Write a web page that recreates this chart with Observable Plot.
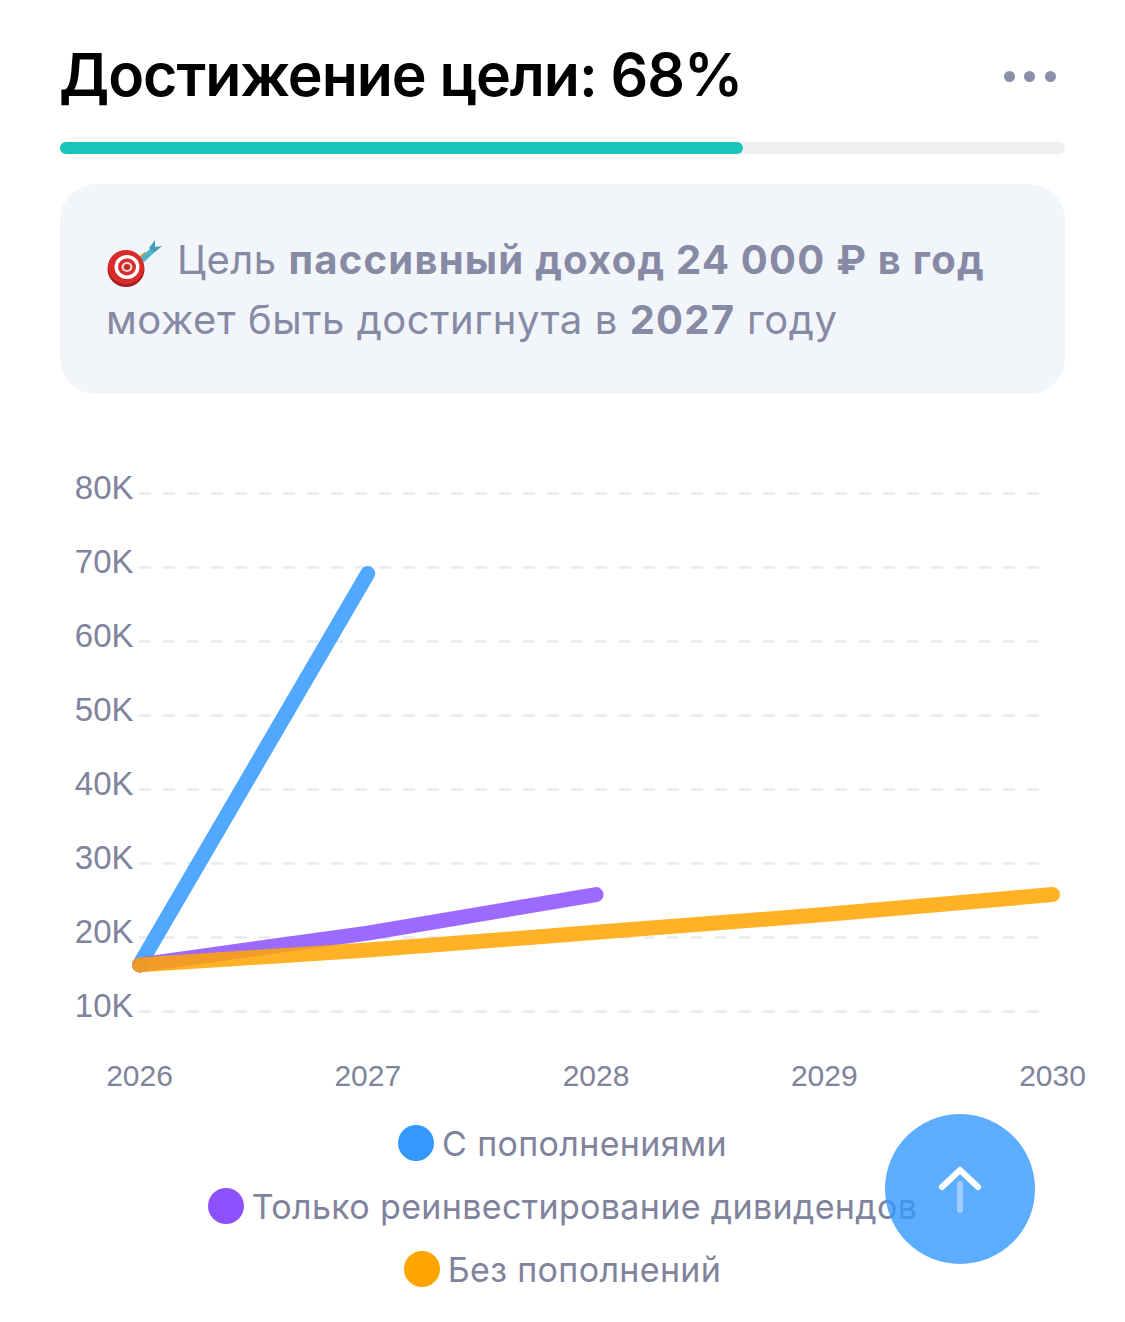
<!DOCTYPE html>
<html lang="ru"><head><meta charset="utf-8">
<script src="https://cdn.jsdelivr.net/npm/d3@7"></script>
<script src="https://cdn.jsdelivr.net/npm/@observablehq/plot@0.6"></script>
<style>
html,body{margin:0;padding:0;background:#fff}
body{width:1125px;height:1322px;position:relative;overflow:hidden;font-family:Inter,"Noto Sans",sans-serif}
.a{position:absolute}
#title{left:59px;top:36px;font-size:59px;line-height:78px;font-weight:600;color:#000;white-space:nowrap;letter-spacing:-1.05px}
.dot3{width:11px;height:11px;border-radius:50%;background:#8c8fa8;top:71px}
#track{left:60px;top:142px;width:1005px;height:12px;border-radius:6px;background:#eff0f2}
#fill{left:60px;top:142px;width:683px;height:12px;border-radius:6px;background:#19c4ba}
#panel{left:60px;top:184px;width:1005px;height:210px;border-radius:36px;background:#f2f6fa}
.msg{font-size:40px;line-height:60px;color:#878aa5;white-space:nowrap;left:106px;letter-spacing:.55px}
.msg b{font-weight:700;letter-spacing:1.23px}
#chart{left:0;top:440px}
#chart svg{overflow:visible}
.leg{left:0;width:1125px;display:flex;justify-content:center;align-items:center;height:40px;font-size:34px;letter-spacing:.35px;color:#80839c;white-space:nowrap}
.leg i{display:inline-block;width:36px;height:36px;border-radius:50%;margin-right:8px}
#fab{left:885px;top:1114px;width:150px;height:150px;border-radius:50%;background:rgba(51,153,255,.8)}
</style></head><body>
<div class="a" id="title">Достижение цели: 68%</div>
<div class="a dot3" style="left:1004px"></div><div class="a dot3" style="left:1024px"></div><div class="a dot3" style="left:1045px"></div>
<div class="a" id="track"></div><div class="a" id="fill"></div>
<div class="a" id="panel"></div>
<svg class="a" style="left:106px;top:238px" width="58" height="52" viewBox="0 0 58 52">
<path d="M24 27 L40 15" stroke="#d9a441" stroke-width="3"/>
<path d="M33 21 L46 9 L50 13 L38 24Z" fill="#4fb3c8"/>
<path d="M43 10 L49 2 L49 9 L56 8 L49 14Z" fill="#3f9fb8"/>
<ellipse cx="20" cy="31" rx="18.5" ry="18" fill="#a81d1d"/>
<ellipse cx="20" cy="29" rx="18" ry="17" fill="#d92c2c"/>
<ellipse cx="21" cy="29" rx="12.5" ry="12" fill="#fff"/>
<ellipse cx="21" cy="29" rx="9" ry="8.5" fill="#d92c2c"/>
<ellipse cx="21" cy="29" rx="5.5" ry="5" fill="#f6d5d5"/>
<ellipse cx="21" cy="29" rx="3.2" ry="3" fill="#c62828"/>
</svg>
<div class="a msg" style="top:230px;left:177px">Цель <b>пассивный доход 24 000 ₽ в год</b></div>
<div class="a msg" style="top:290px">может быть достигнута в <b>2027</b> году</div>
<div class="a" id="chart"></div>
<div class="a" id="legend" style="left:0;top:0"></div>
<div class="a" id="fab"></div>
<svg class="a" style="left:885px;top:1114px" width="150" height="150">
<path d="M75 70 L75 96" stroke="#fff" stroke-opacity=".4" stroke-width="6" stroke-linecap="round"/>
<path d="M57 73 L75 56 L93 73" fill="none" stroke="#fff" stroke-width="6" stroke-linecap="round" stroke-linejoin="round"/>
</svg>
<script>
const years = [2026, 2027, 2028, 2029, 2030];
const withTopUps = [16.3, 69.2];
const reinvest = [16.3, 20.6, 25.8];
const noTopUps = [16.3, 18.3, 20.7, 23.1, 25.8];
const yTicks = [10, 20, 30, 40, 50, 60, 70, 80];
const seriesNames = ["С пополнениями", "Только реинвестирование дивидендов", "Без пополнений"];
const seriesColors = ["#3399ff", "#8c50ff", "#ffa500"];
const seriesValues = [withTopUps, reinvest, noTopUps];
const lineOpacity = 0.85;

const chart = Plot.plot({
  width: 1125, height: 700,
  marginLeft: 139, marginRight: 73, marginTop: 53, marginBottom: 129,
  style: {background: "transparent", fontFamily: "Inter, sans-serif"},
  x: {domain: [2026, 2030], label: null},
  y: {domain: [10, 80], label: null},
  marks: [
    Plot.ruleY(yTicks, {stroke: "#e9ebf0", strokeWidth: 2.5, strokeDasharray: "12 12", insetRight: 12}),
    ...seriesValues.map((vals, i) => Plot.line(
      vals.map((v, j) => ({year: years[j], value: v})),
      {x: "year", y: "value", stroke: seriesColors[i], strokeWidth: 15, strokeOpacity: lineOpacity, strokeLinecap: "round", strokeLinejoin: "round", curve: "linear"}
    )),
    Plot.axisX({ticks: years, tickFormat: d => String(d), tickSize: 0, tickPadding: 53, fontSize: 30, fill: "#80839c", fontFamily: "Liberation Sans, sans-serif"}),
    Plot.axisY({ticks: yTicks, tickFormat: d => d + "K", tickSize: 0, tickPadding: 6, dy: -5.5, fontSize: 33, fill: "#80839c", fontFamily: "Liberation Sans, sans-serif"})
  ]
});
document.getElementById("chart").append(chart);

const legendTops = [1123, 1186, 1249];
const legendEl = document.getElementById("legend");
seriesNames.forEach((name, i) => {
  const row = document.createElement("div");
  row.className = "a leg";
  row.style.top = legendTops[i] + "px";
  const d = document.createElement("i");
  d.style.background = seriesColors[i];
  row.append(d, document.createTextNode(name));
  legendEl.append(row);
});
</script>
</body></html>
